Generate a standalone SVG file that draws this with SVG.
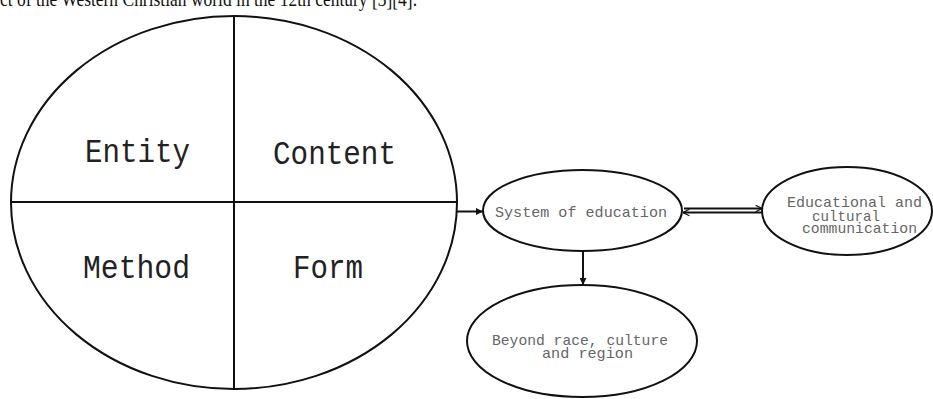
<svg xmlns="http://www.w3.org/2000/svg" width="933" height="399" viewBox="0 0 933 399">
<style>
.sh{fill:none;stroke:#111;stroke-width:2}
.big{font-family:"Liberation Mono",monospace;font-size:34px;fill:#222}
.sm{font-family:"Liberation Mono",monospace;font-size:15px;fill:#666}
.cn{stroke:#111;stroke-width:2;fill:none}
</style>
<defs>
<marker id="ah" viewBox="0 0 10 10" refX="10" refY="5" markerWidth="7" markerHeight="7" orient="auto" markerUnits="userSpaceOnUse">
<path d="M0,0 L10,5 L0,10 z" fill="#111"/>
</marker>
<marker id="ch" viewBox="0 0 10 10" refX="10" refY="5" markerWidth="8" markerHeight="8" orient="auto" markerUnits="userSpaceOnUse">
<path d="M2,1 L10,5 L2,9" fill="none" stroke="#111" stroke-width="1.5"/>
</marker>
</defs>
<rect width="933" height="399" fill="#fff"/>
<text x="0" y="6" font-family="Liberation Serif,serif" font-size="22" textLength="417" lengthAdjust="spacingAndGlyphs" fill="#111">ct of the Western Christian world in the 12th century [3][4].</text>
<g id="core">
<ellipse class="sh" cx="234" cy="202.5" rx="223" ry="186.5"/>
<line class="sh" x1="234" y1="16" x2="234" y2="389"/>
<line class="sh" x1="11" y1="202" x2="457" y2="202"/>
<text class="big" x="85" y="162" textLength="105" lengthAdjust="spacingAndGlyphs">Entity</text>
<text class="big" x="273" y="164" textLength="123" lengthAdjust="spacingAndGlyphs">Content</text>
<text class="big" x="83" y="278" textLength="107" lengthAdjust="spacingAndGlyphs">Method</text>
<text class="big" x="293" y="278" textLength="70" lengthAdjust="spacingAndGlyphs">Form</text>
</g>
<g id="system">
<ellipse class="sh" cx="582.5" cy="210.5" rx="99.5" ry="40.5"/>
<text class="sm" x="495" y="217" textLength="172" lengthAdjust="spacingAndGlyphs">System of education</text>
</g>
<g id="communication">
<ellipse class="sh" cx="847" cy="211" rx="85" ry="44"/>
<text class="sm" x="787" y="207" textLength="135" lengthAdjust="spacingAndGlyphs">Educational and</text>
<text class="sm" x="812" y="220.5" textLength="68" lengthAdjust="spacingAndGlyphs">cultural</text>
<text class="sm" x="802" y="233" textLength="115" lengthAdjust="spacingAndGlyphs">communication</text>
</g>
<g id="beyond">
<ellipse class="sh" cx="582" cy="341" rx="115" ry="56"/>
<text class="sm" x="492" y="345" textLength="176" lengthAdjust="spacingAndGlyphs">Beyond race, culture</text>
<text class="sm" x="542" y="358" textLength="91" lengthAdjust="spacingAndGlyphs">and region</text>
</g>
<g id="connectors">
<line class="cn" x1="457" y1="211.5" x2="483" y2="211.5" marker-end="url(#ah)"/>
<line class="cn" x1="684" y1="208.5" x2="762" y2="208.5" marker-end="url(#ch)"/>
<line class="cn" x1="762" y1="212.5" x2="683" y2="212.5" marker-end="url(#ch)"/>
<line class="cn" x1="583" y1="251" x2="583" y2="285" marker-end="url(#ah)"/>
</g>
</svg>
